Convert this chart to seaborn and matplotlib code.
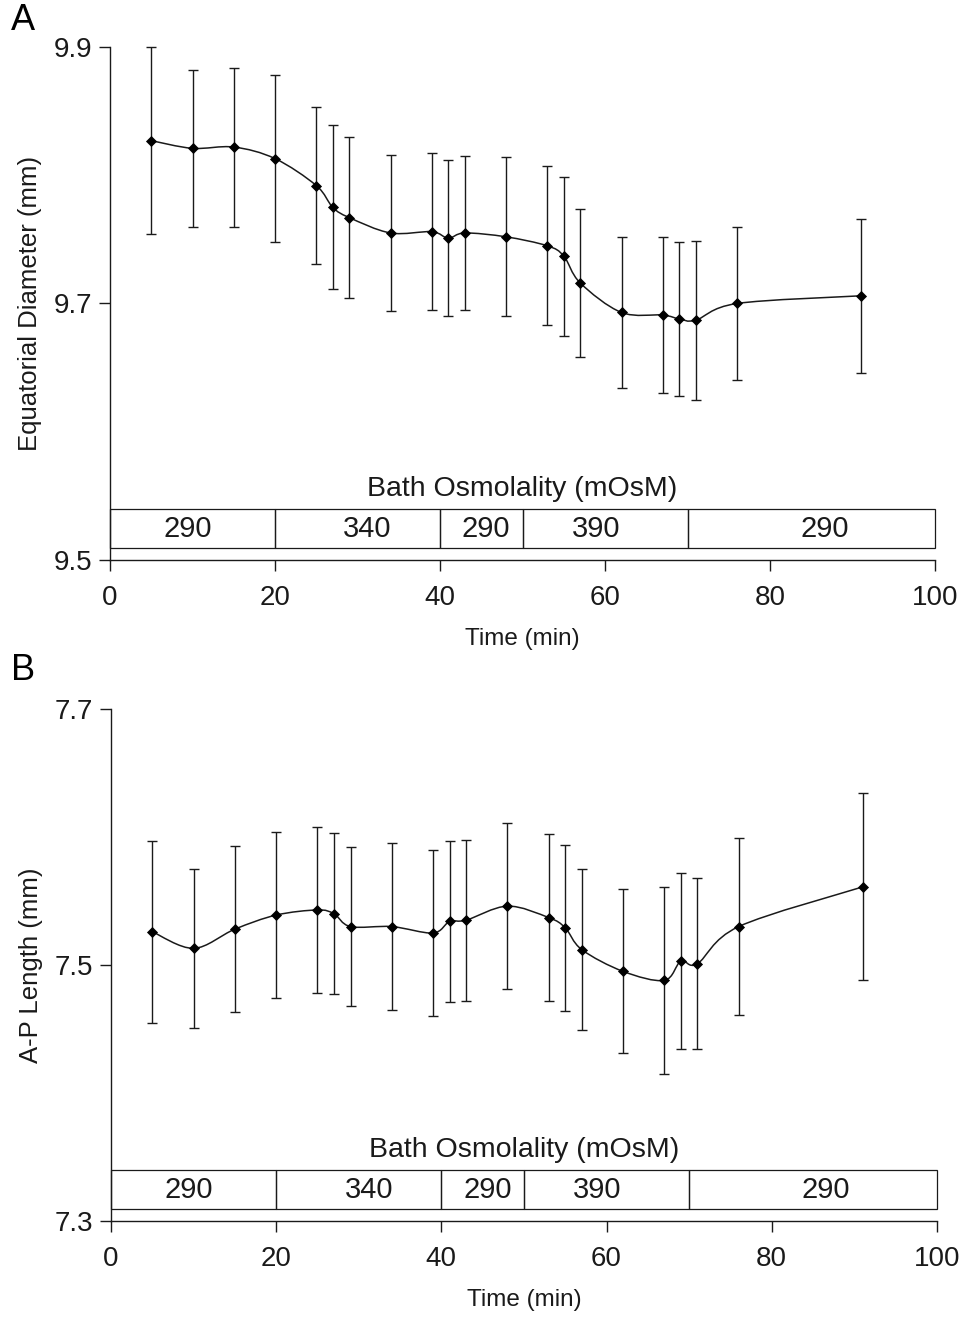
import numpy as np
import pandas as pd
import seaborn as sns
import matplotlib
matplotlib.use("Agg")
import matplotlib.pyplot as plt
from matplotlib.path import Path
from matplotlib.patches import PathPatch, Rectangle
from matplotlib import font_manager

# time points (min)
time_min = [5, 10, 15, 20, 25, 27, 29, 34, 39, 41, 43, 48, 53, 55, 57, 62, 67, 69, 71, 76, 91]

# A: equatorial diameter (mm), mean and error
eq_diam = [9.827, 9.821, 9.822, 9.813, 9.792, 9.775, 9.767, 9.755, 9.756, 9.751, 9.755,
           9.752, 9.745, 9.737, 9.716, 9.693, 9.691, 9.688, 9.687, 9.700, 9.706]
eq_diam_err = [0.073, 0.061, 0.062, 0.065, 0.061, 0.064, 0.063, 0.061, 0.061, 0.061, 0.060,
               0.062, 0.062, 0.062, 0.058, 0.059, 0.061, 0.060, 0.062, 0.060, 0.060]

# B: A-P length (mm), mean and error
ap_len = [7.526, 7.513, 7.528, 7.539, 7.543, 7.540, 7.530, 7.530, 7.525, 7.534, 7.535,
          7.546, 7.537, 7.529, 7.512, 7.495, 7.488, 7.503, 7.501, 7.530, 7.561]
ap_len_err = [0.071, 0.062, 0.065, 0.065, 0.065, 0.063, 0.062, 0.065, 0.065, 0.063, 0.063,
              0.065, 0.065, 0.065, 0.063, 0.064, 0.073, 0.069, 0.067, 0.069, 0.073]

# bath osmolality periods
bath_edges = [0, 20, 40, 50, 70, 100]
bath_osm = ["290", "340", "290", "390", "290"]
bath_label_x = [9.4, 31.2, 45.6, 58.9, 86.6]

sns.set_theme(style="ticks")
plt.rcParams["font.family"] = ["Liberation Sans", "DejaVu Sans"]
INK = "#1a1a1a"

# narrow face for the strip numbers if we have it
installed = {f.name for f in font_manager.fontManager.ttflist}
if "Liberation Sans Narrow" in installed:
    box_font, box_size = ["Liberation Sans Narrow", "Liberation Sans"], 23.5
else:
    box_font, box_size = ["Liberation Sans", "DejaVu Sans"], 21


def smooth_path(x, y):
    # bezier curve through the points, like a spreadsheet "smoothed line"
    pts = np.column_stack([x, y]).astype(float)
    n = len(pts)
    verts = [pts[0]]
    codes = [Path.MOVETO]
    for i in range(n - 1):
        p0 = pts[max(i - 1, 0)]
        p1, p2 = pts[i], pts[i + 1]
        p3 = pts[min(i + 2, n - 1)]
        verts += [p1 + (p2 - p0) / 6, p2 - (p3 - p1) / 6, p2]
        codes += [Path.CURVE4] * 3
    return Path(verts, codes)


def draw_panel(ax, df, col, err, ylim, yticks, ylabel, letter, letter_y):
    ax.set_xlim(0, 100)
    ax.set_ylim(*ylim)

    ax.add_patch(PathPatch(smooth_path(df["time"], df[col]), fill=False,
                           ec=INK, lw=1.1, zorder=2))
    ax.errorbar(df["time"], df[col], yerr=df[err], fmt="none", ecolor=INK,
                elinewidth=1.0, capsize=3.5, capthick=1.0, zorder=2, clip_on=False)
    sns.scatterplot(data=df, x="time", y=col, marker="D", color="black", s=32,
                    linewidth=0, ax=ax, zorder=3, clip_on=False)

    # bath osmolality strip
    tr = ax.get_xaxis_transform()
    for i, lab in enumerate(bath_osm):
        x0, x1 = bath_edges[i], bath_edges[i + 1]
        ax.add_patch(Rectangle((x0, 0.0234), x1 - x0, 0.076, transform=tr, fill=False,
                               ec=INK, lw=0.9, clip_on=False, zorder=1))
        ax.text(bath_label_x[i], 0.061, lab, transform=tr, ha="center", va="center",
                fontsize=box_size, family=box_font, color=INK)
    ax.text(50, 0.138, "Bath Osmolality (mOsM)", transform=tr, ha="center",
            va="center", fontsize=20.5, color=INK)

    ax.set_xticks([0, 20, 40, 60, 80, 100])
    ax.set_yticks(yticks)
    ax.set_yticklabels([f"{v:.1f}" for v in yticks])
    ax.tick_params(axis="both", direction="out", length=8, width=1.0, color=INK,
                   labelsize=20, labelcolor=INK)
    ax.tick_params(axis="x", pad=10)
    ax.tick_params(axis="y", pad=5)
    ax.set_xlabel("Time (min)", fontsize=17.5, color=INK, labelpad=12)
    ax.set_ylabel(ylabel, fontsize=18.5, color=INK, labelpad=8)
    sns.despine(ax=ax)
    for s in ["left", "bottom"]:
        ax.spines[s].set_color(INK)
        ax.spines[s].set_linewidth(1.0)
    ax.set_facecolor("white")
    ax.figure.text(0.011, letter_y, letter, ha="left", va="top", fontsize=26, color="black")


df = pd.DataFrame({"time": time_min, "diam": eq_diam, "diam_err": eq_diam_err,
                   "ap": ap_len, "ap_err": ap_len_err})

fig = plt.figure(figsize=(9.66, 13.21), dpi=100)
fig.patch.set_facecolor("white")
ax_a = fig.add_axes([0.1139, 0.5761, 0.854, 0.3883])
ax_b = fig.add_axes([0.1149, 0.0757, 0.855, 0.3876])

draw_panel(ax_a, df, "diam", "diam_err", (9.5, 9.9), [9.5, 9.7, 9.9],
           "Equatorial Diameter (mm)", "A", 1 - 3 / 1321)
draw_panel(ax_b, df, "ap", "ap_err", (7.3, 7.7), [7.3, 7.5, 7.7],
           "A-P Length (mm)", "B", 1 - 653 / 1321)

fig.savefig("out.png", dpi=100, facecolor="white")
